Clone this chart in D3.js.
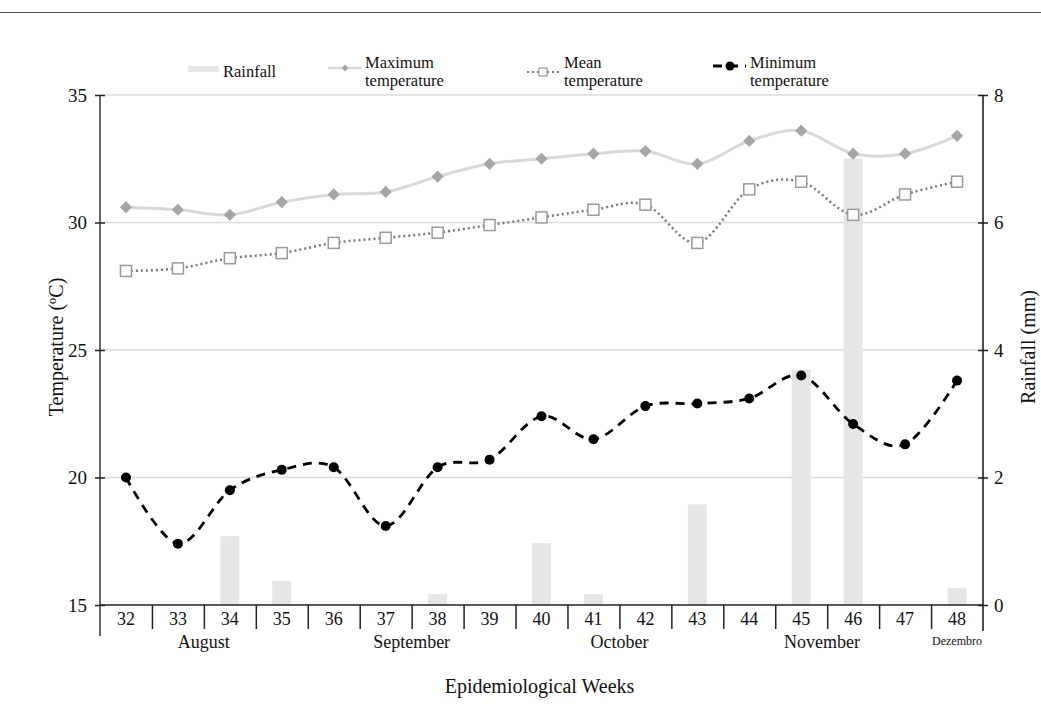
<!DOCTYPE html>
<html>
<head>
<meta charset="utf-8">
<script src="https://cdn.jsdelivr.net/npm/d3@7"></script>
<style>
    body { margin: 0; background: #fff; }
    svg text { font-family: "Liberation Serif", "DejaVu Serif", serif; fill: #111; }
</style>
</head>
<body>
<div id="chart"></div>
<script>

// data
var weeks    = [32, 33, 34, 35, 36, 37, 38, 39, 40, 41, 42, 43, 44, 45, 46, 47, 48];
var rainfall = [0, 0, 1.08, 0.38, 0, 0, 0.17, 0, 0.97, 0.17, 0, 1.58, 0, 3.69, 7.0, 0, 0.27];
var maxTemp  = [30.6, 30.5, 30.3, 30.8, 31.1, 31.2, 31.8, 32.3, 32.5, 32.7, 32.8, 32.3, 33.2, 33.6, 32.7, 32.7, 33.4];
var meanTemp = [28.1, 28.2, 28.6, 28.8, 29.2, 29.4, 29.6, 29.9, 30.2, 30.5, 30.7, 29.2, 31.3, 31.6, 30.3, 31.1, 31.6];
var minTemp  = [20.0, 17.4, 19.5, 20.3, 20.4, 18.1, 20.4, 20.7, 22.4, 21.5, 22.8, 22.9, 23.1, 24.0, 22.1, 21.3, 23.8];

var months   = ["August", "September", "October", "November", "Dezembro"];
var monthPos = [33.5, 37.5, 41.5, 45.4, 48];

var tempTicks = [15, 20, 25, 30, 35];
var rainTicks = [0, 2, 4, 6, 8];

var legendLabels = [["Rainfall"], ["Maximum", "temperature"], ["Mean", "temperature"], ["Minimum", "temperature"]];

var margins = { margin_left: 100, margin_top: 95, width: 883, height: 510 };

var svg0 = d3.select("#chart")
    .append("svg")
    .attr("width", 1041)
    .attr("height", 704);

// thin rule across the top of the figure
svg0.append("line")
    .attr("x1", 0).attr("x2", 1041)
    .attr("y1", 12.5).attr("y2", 12.5)
    .attr("stroke", "#555")
    .attr("stroke-width", 1);

var svg = svg0.append("g")
    .attr("transform", "translate(" + margins.margin_left + "," + margins.margin_top + ")");

// scales
var x = d3.scaleBand().domain(weeks).range([0, margins.width]).paddingInner(0.634).paddingOuter(0.317);
var xl = d3.scaleLinear().domain([31.5, 48.5]).range([0, margins.width]);
var yT = d3.scaleLinear().domain([15, 35]).range([margins.height, 0]);
var yR = d3.scaleLinear().domain([0, 8]).range([margins.height, 0]);

function cx(w) { return x(w) + x.bandwidth() / 2; }

// gridlines
svg.append("g")
    .selectAll("line")
    .data(tempTicks.slice(1))
    .join("line")
        .attr("x1", 0).attr("x2", margins.width)
        .attr("y1", function(d) { return yT(d); })
        .attr("y2", function(d) { return yT(d); })
        .attr("stroke", "#dcdcdc")
        .attr("stroke-width", 1.5);

// rainfall bars
svg.append("g")
    .selectAll("rect")
    .data(weeks)
    .join("rect")
        .attr("x", function(d) { return x(d); })
        .attr("width", x.bandwidth())
        .attr("y", function(d, i) { return yR(rainfall[i]); })
        .attr("height", function(d, i) { return margins.height - yR(rainfall[i]); })
        .attr("fill", "#e6e6e6");

// x axis: week boundaries
var x_axis = d3.axisBottom(xl).tickValues(d3.range(32.5, 48.5, 1)).tickSize(24).tickFormat("");
svg.append("g")
    .attr("transform", "translate(0," + margins.height + ")")
    .call(x_axis)
    .call(function(g) {
        g.select(".domain").remove();
        g.selectAll(".tick line").attr("stroke", "#222").attr("stroke-width", 1.5);
    });

svg.append("line")
    .attr("x1", 0).attr("x2", margins.width)
    .attr("y1", margins.height).attr("y2", margins.height)
    .attr("stroke", "#222").attr("stroke-width", 1.5);

// week numbers
svg.append("g")
    .selectAll("text")
    .data(weeks)
    .join("text")
        .attr("x", function(d) { return cx(d); })
        .attr("y", margins.height + 20)
        .attr("text-anchor", "middle")
        .style("font-size", "18px")
        .text(function(d) { return d; });

// month labels
svg.append("g")
    .selectAll("text")
    .data(months)
    .join("text")
        .attr("x", function(d, i) { return xl(monthPos[i]); })
        .attr("y", function(d, i) { return margins.height + (i == 4 ? 40 : 43); })
        .attr("text-anchor", "middle")
        .style("font-size", function(d, i) { return i == 4 ? "12px" : "18px"; })
        .text(function(d) { return d; });

// left axis
var y_axis = d3.axisLeft(yT).tickValues(tempTicks).tickSize(5).tickPadding(8);
svg.append("g")
    .call(y_axis)
    .call(function(g) {
        g.select(".domain").remove();
        g.selectAll(".tick line").attr("x2", 5).attr("x1", -5).attr("stroke", "#222").attr("stroke-width", 1.5);
        g.selectAll(".tick text").style("font-size", "19px").attr("fill", "#111");
    });
svg.append("line")
    .attr("x1", 0).attr("x2", 0)
    .attr("y1", 0).attr("y2", margins.height + 31)
    .attr("stroke", "#333").attr("stroke-width", 1.5);

// right axis
var right_axis = d3.axisRight(yR).tickValues(rainTicks).tickSize(5).tickPadding(6);
svg.append("g")
    .attr("transform", "translate(" + margins.width + ",0)")
    .call(right_axis)
    .call(function(g) {
        g.select(".domain").remove();
        g.selectAll(".tick line").attr("x1", -5).attr("x2", 5).attr("stroke", "#222").attr("stroke-width", 1.5);
        g.selectAll(".tick text").style("font-size", "19px").attr("fill", "#111");
    });
svg.append("line")
    .attr("x1", margins.width).attr("x2", margins.width)
    .attr("y1", 0).attr("y2", margins.height + 26)
    .attr("stroke", "#111").attr("stroke-width", 1.5);

// lines
var line = function(vals) {
    return d3.line()
        .x(function(d) { return cx(d); })
        .y(function(d, i) { return yT(vals[i]); })
        .curve(d3.curveCardinal.tension(0))(weeks);
};

svg.append("path")
    .attr("d", line(maxTemp))
    .attr("fill", "none")
    .attr("stroke", "#d9d9d9")
    .attr("stroke-width", 3);

svg.append("path")
    .attr("d", line(meanTemp))
    .attr("fill", "none")
    .attr("stroke", "#7a7a7a")
    .attr("stroke-width", 2.5)
    .attr("stroke-dasharray", "2,3");

svg.append("path")
    .attr("d", line(minTemp))
    .attr("fill", "none")
    .attr("stroke", "#000")
    .attr("stroke-width", 2.8)
    .attr("stroke-dasharray", "9,7");

// markers
svg.append("g")
    .selectAll("path")
    .data(weeks)
    .join("path")
        .attr("d", d3.symbol(d3.symbolDiamond2, 95))
        .attr("transform", function(d, i) { return "translate(" + cx(d) + "," + yT(maxTemp[i]) + ")"; })
        .attr("fill", "#a6a6a6");

svg.append("g")
    .selectAll("rect")
    .data(weeks)
    .join("rect")
        .attr("x", function(d) { return cx(d) - 5.5; })
        .attr("y", function(d, i) { return yT(meanTemp[i]) - 5.5; })
        .attr("width", 11).attr("height", 11)
        .attr("fill", "#fff")
        .attr("stroke", "#9a9a9a")
        .attr("stroke-width", 1.5);

svg.append("g")
    .selectAll("circle")
    .data(weeks)
    .join("circle")
        .attr("cx", function(d) { return cx(d); })
        .attr("cy", function(d, i) { return yT(minTemp[i]); })
        .attr("r", 5)
        .attr("fill", "#000");

// axis labels
svg.append("text")
    .attr("x", margins.width / 2 - 2)
    .attr("y", margins.height + 88)
    .attr("text-anchor", "middle")
    .style("font-size", "20px")
    .text("Epidemiological Weeks");

svg.append("text")
    .attr("transform", "translate(-37," + (margins.height / 2 - 3) + ") rotate(-90)")
    .attr("text-anchor", "middle")
    .style("font-size", "20px")
    .text("Temperature (ºC)");

svg.append("text")
    .attr("transform", "translate(" + (margins.width + 52) + "," + (margins.height / 2 - 3) + ") rotate(-90)")
    .attr("text-anchor", "middle")
    .style("font-size", "20px")
    .text("Rainfall (mm)");

// legend
var legX = [188, 328, 527, 713];
var legend = svg0.append("g");

legend.append("rect")
    .attr("x", legX[0]).attr("y", 66)
    .attr("width", 31).attr("height", 6)
    .attr("fill", "#e6e6e6");

legend.append("line")
    .attr("x1", legX[1]).attr("x2", legX[1] + 34)
    .attr("y1", 68).attr("y2", 68)
    .attr("stroke", "#d9d9d9").attr("stroke-width", 2.5);
legend.append("path")
    .attr("d", d3.symbol(d3.symbolDiamond2, 30))
    .attr("transform", "translate(" + (legX[1] + 17) + ",68)")
    .attr("fill", "#a6a6a6");

legend.append("line")
    .attr("x1", legX[2]).attr("x2", legX[2] + 33)
    .attr("y1", 72).attr("y2", 72)
    .attr("stroke", "#7a7a7a").attr("stroke-width", 2)
    .attr("stroke-dasharray", "2,3");
legend.append("rect")
    .attr("x", legX[2] + 12).attr("y", 68)
    .attr("width", 8).attr("height", 8)
    .attr("fill", "#fff").attr("stroke", "#9a9a9a").attr("stroke-width", 1.2);

legend.append("line")
    .attr("x1", legX[3]).attr("x2", legX[3] + 33)
    .attr("y1", 66).attr("y2", 66)
    .attr("stroke", "#000").attr("stroke-width", 3)
    .attr("stroke-dasharray", "9,7");
legend.append("circle")
    .attr("cx", legX[3] + 17).attr("cy", 66).attr("r", 4.5)
    .attr("fill", "#000");

legend.selectAll("text.leg")
    .data(legendLabels)
    .join("text")
        .attr("class", "leg")
        .attr("x", function(d, i) { return legX[i] + (i == 0 ? 35 : 37); })
        .attr("y", function(d, i) { return i == 0 ? 77 : 68; })
        .style("font-size", "16.5px")
        .each(function(d) {
            var t = d3.select(this);
            d.forEach(function(s, j) {
                t.append("tspan")
                    .attr("x", t.attr("x"))
                    .attr("dy", j == 0 ? 0 : 18)
                    .text(s);
            });
        });

</script>
</body>
</html>
